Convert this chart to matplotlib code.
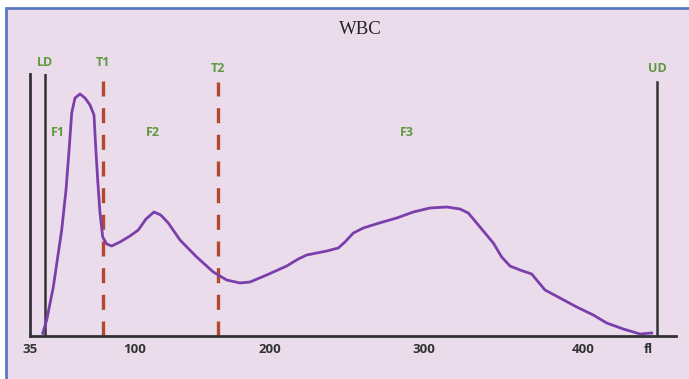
import numpy as np
from matplotlib import pyplot as plt
from matplotlib.patches import Rectangle

# channel position along the axis and relative count (height above baseline)
pos = [42.7, 46.7, 53.3, 61.7, 66, 69.3, 71.7, 75, 80, 85, 90, 94, 95.7, 97.7,
       100, 102.7, 106.7, 111.7, 120, 130, 138.3, 146, 154, 160.7, 168.3, 180,
       196.7, 213.3, 226.7, 240, 250, 266.7, 286.7, 298.3, 306.7, 316.7, 326.7,
       338.3, 345, 353.3, 363.3, 379.3, 396.7, 413.3, 430, 446.7, 460, 468.3,
       480, 493.3, 501.7, 510, 520, 531.7, 538.3, 545, 560, 576.7, 593.3,
       606.7, 623.3, 640, 651.7]
count = [2.7, 16, 49, 106, 146, 189, 223, 238, 242, 238, 231, 221, 189, 156,
         123, 99, 92, 90, 94, 100, 106, 117, 124, 121, 113, 96,
         79, 64, 56, 53, 54, 61, 70, 77, 81, 83, 85,
         88, 94, 103, 108, 113, 118, 124, 128, 129, 127, 123,
         109, 93, 79, 70, 66, 62, 54, 46, 38, 29, 21,
         13, 7, 2, 3]

tick_pos = [30, 135, 270, 424, 583, 648]
tick_lab = ["35", "100", "200", "300", "400", "fl"]

markers = {"LD": 45, "T1": 103, "T2": 218, "UD": 657}
regions = {"F1": 58, "F2": 153, "F3": 407}

bg = "#ebdcec"
green = "#5e9a40"

fig = plt.figure(figsize=(6.89, 3.79), dpi=100, facecolor="white")
fig.patches.append(Rectangle((6 / 689, -0.05), 1.1, (379 - 8) / 379 + 0.05,
                             transform=fig.transFigure, facecolor=bg,
                             edgecolor="#5a78c0", linewidth=2, zorder=-10))

ax = fig.add_axes([30 / 689, 43 / 379, 646 / 689, 262 / 379])
ax.set_facecolor("none")
ax.set_xlim(30, 676)
ax.set_ylim(0, 262)
for s in ["top", "right"]:
    ax.spines[s].set_visible(False)
ax.spines["left"].set_color("#333333")
ax.spines["bottom"].set_color("#333333")
ax.spines["left"].set_linewidth(2)
ax.spines["bottom"].set_linewidth(2)
ax.set_yticks([])
ax.set_xticks(tick_pos)
ax.set_xticklabels(tick_lab, fontfamily="Open Sans", fontweight="bold",
                   fontsize=9.5, color="#333333")
ax.tick_params(axis="x", length=0, pad=5)

ax.axvline(markers["LD"], ymax=1.0, color="#333333", lw=1.8)
ax.axvline(markers["UD"], ymax=0.97, color="#333333", lw=1.8)
ax.axvline(markers["T1"], ymax=0.99, color="#b5472b", lw=2.4, dashes=(4.5, 3.5))
ax.axvline(markers["T2"], ymax=0.97, color="#b5472b", lw=2.4, dashes=(4.5, 3.5))

ax.plot(pos, count, color="#7b3fab", lw=2, solid_joinstyle="round")

label_y = {"LD": 274, "T1": 274, "T2": 268, "UD": 268}
for k, x in markers.items():
    ax.text(x, label_y[k], k, ha="center", va="center", color=green,
            fontfamily="Open Sans", fontweight="bold", fontsize=9, clip_on=False)
for k, x in regions.items():
    ax.text(x, 203, k, ha="center", va="center", color=green,
            fontfamily="Open Sans", fontweight="bold", fontsize=9)

fig.text(360 / 689, 1 - 30 / 379, "WBC", ha="center", va="center",
         fontfamily="Liberation Serif", fontsize=13.5, color="#222222")

fig.savefig("out.png", dpi=100, facecolor="white")
